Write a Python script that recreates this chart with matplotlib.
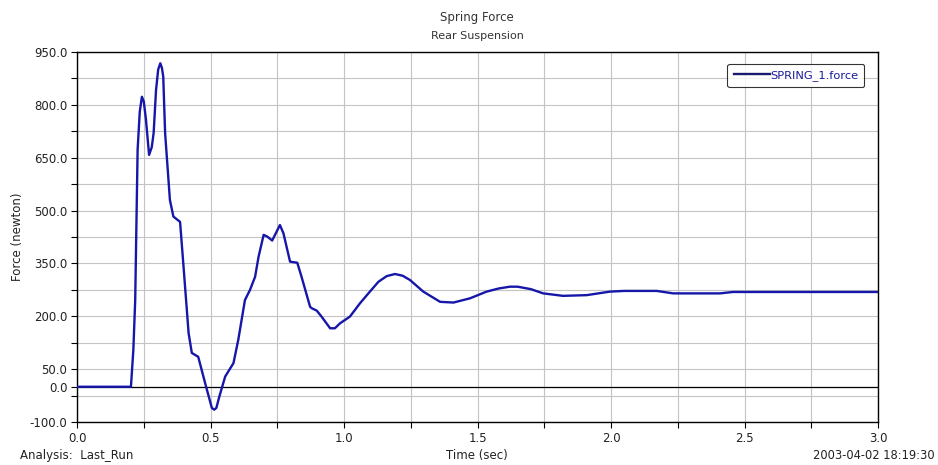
import numpy as np
import matplotlib
matplotlib.use("Agg")
import matplotlib.pyplot as plt

plt.rcParams['font.family'] = ['DejaVu Sans']

# Spring force (time in sec, force in newton)
time_sec = [0.0, 0.202, 0.211, 0.218, 0.224, 0.227, 0.235, 0.243, 0.250, 0.258,
            0.270, 0.280, 0.287, 0.296, 0.304, 0.312, 0.318, 0.323, 0.330, 0.348,
            0.361, 0.386, 0.399, 0.418, 0.430, 0.454, 0.480, 0.505, 0.514, 0.522,
            0.533, 0.555, 0.586, 0.604, 0.629, 0.648, 0.667, 0.680, 0.699, 0.713,
            0.731, 0.760, 0.773, 0.798, 0.825, 0.841, 0.873, 0.879, 0.898, 0.916,
            0.948, 0.966, 0.985, 1.022, 1.060, 1.097, 1.129, 1.160, 1.191, 1.220,
            1.247, 1.297, 1.360, 1.410, 1.472, 1.534, 1.580, 1.622, 1.650, 1.700,
            1.746, 1.820, 1.909, 1.996, 2.050, 2.171, 2.233, 2.408, 2.457, 2.700,
            3.0]
force_n = [0, 0, 104, 246, 530, 672, 780, 823, 810, 760,
           658, 680, 720, 842, 900, 918, 905, 880, 720, 530,
           483, 468, 341, 152, 96, 85, 10, -60, -65, -60,
           -28, 29, 67, 133, 246, 275, 312, 369, 431, 426,
           415, 459, 436, 355, 352, 312, 227, 223, 216, 199,
           166, 166, 180, 199, 237, 270, 298, 314, 320, 315,
           303, 270, 241, 239, 251, 270, 279, 284, 284, 277,
           265, 258, 260, 270, 272, 272, 265, 265, 269, 269,
           269]

x_ticks = [0.0, 0.25, 0.5, 0.75, 1.0, 1.25, 1.5, 1.75, 2.0, 2.25, 2.5, 2.75, 3.0]
x_labels = ['0.0', '', '0.5', '', '1.0', '', '1.5', '', '2.0', '', '2.5', '', '3.0']
y_ticks = [-100, -25, 0, 50, 125, 200, 275, 350, 425, 500, 575, 650, 725, 800, 875, 950]
y_labels = ['-100.0', '', '0.0', '50.0', '', '200.0', '', '350.0', '', '500.0', '',
            '650.0', '', '800.0', '', '950.0']

fig = plt.figure(figsize=(9.38, 4.65), dpi=100)
ax = fig.add_axes([77 / 938, 43 / 465, 801 / 938, 370 / 465])

ax.plot(time_sec, force_n, color='#1616a8', lw=1.7, label='SPRING_1.force', zorder=3)
ax.axhline(0, color='black', lw=0.9, zorder=2)

ax.set_xlim(0, 3.0)
ax.set_ylim(-100, 950)
ax.set_xticks(x_ticks)
ax.set_xticklabels(x_labels)
ax.set_yticks(y_ticks)
ax.set_yticklabels(y_labels)
ax.tick_params(direction='out', length=4, width=0.8, labelsize=8.5, colors='black',
               pad=3, labelcolor='#222222')
ax.grid(True, color='#c4c4c4', lw=0.8, zorder=0)
for s in ax.spines.values():
    s.set_color('black')
    s.set_linewidth(1.0)

ax.set_ylabel('Force (newton)', fontsize=8.5, color='#222222')
ax.yaxis.set_label_coords(-0.066, 0.5)

leg = ax.legend(loc='upper right', bbox_to_anchor=(0.983, 0.968), borderaxespad=0,
                fontsize=8.2, frameon=True, fancybox=True, edgecolor='black',
                handlelength=3.2, handletextpad=0.0, borderpad=0.55)
leg.get_frame().set_linewidth(0.8)
leg.get_lines()[0].set_color('#1a1a6e')
for t in leg.get_texts():
    t.set_color('#1a1a9a')

fig.text(477 / 938, 1 - 17 / 465, 'Spring Force', ha='center', va='center',
         fontsize=8.5, color='#333333')
fig.text(477 / 938, 1 - 36 / 465, 'Rear Suspension', ha='center', va='center',
         fontsize=8, color='#333333')
fig.text(20 / 938, 1 - 455 / 465, 'Analysis:  Last_Run', ha='left', va='center',
         fontsize=8.5, color='#222222')
fig.text(477 / 938, 1 - 455 / 465, 'Time (sec)', ha='center', va='center',
         fontsize=8.5, color='#222222')
fig.text(935 / 938, 1 - 455 / 465, '2003-04-02 18:19:30', ha='right', va='center',
         fontsize=8.3, color='#222222')

fig.savefig('out.png', dpi=100, facecolor='white')
